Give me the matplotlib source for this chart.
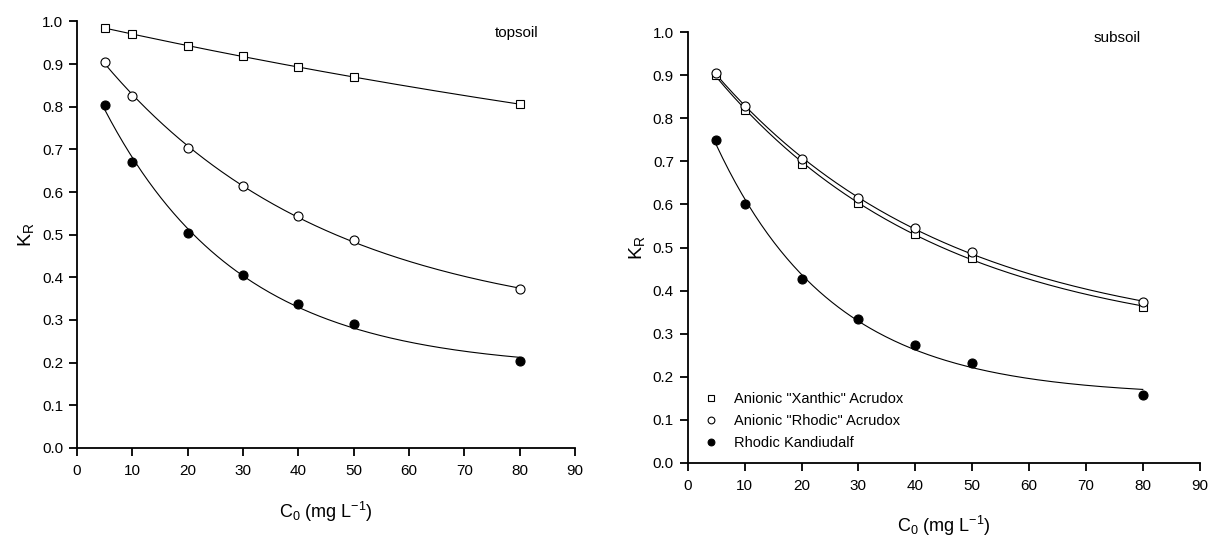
#!/usr/bin/env python3
"""
KR vs C0 for three soils, topsoil and subsoil panels.
Points read from the figure; lines are an exponential-decay fit to them.
"""
import numpy as np
import matplotlib
matplotlib.use("Agg")
import matplotlib.pyplot as plt

c0 = [5, 10, 20, 30, 40, 50, 80]

# topsoil
top_xanthic = [0.985, 0.970, 0.943, 0.918, 0.893, 0.870, 0.806]
top_rhodic = [0.905, 0.826, 0.704, 0.613, 0.543, 0.487, 0.372]
top_kandiudalf = [0.803, 0.671, 0.505, 0.405, 0.338, 0.290, 0.203]

# subsoil
sub_xanthic = [0.900, 0.820, 0.695, 0.603, 0.532, 0.475, 0.362]
sub_rhodic = [0.905, 0.828, 0.706, 0.615, 0.545, 0.489, 0.373]
sub_kandiudalf = [0.750, 0.600, 0.428, 0.333, 0.273, 0.231, 0.158]

labels = ['Anionic "Xanthic" Acrudox', 'Anionic "Rhodic" Acrudox', 'Rhodic Kandiudalf']

plt.rcParams["font.family"] = ["Liberation Sans", "DejaVu Sans"]
plt.rcParams["mathtext.default"] = "regular"


def fit_curve(x, y, n=200):
    # y = a + b*exp(-c*x), grid search on c, linear least squares for a, b
    x = np.asarray(x, float); y = np.asarray(y, float)
    best = None
    for c in np.linspace(0.0005, 0.2, 2000):
        A = np.column_stack([np.ones_like(x), np.exp(-c*x)])
        coef, *_ = np.linalg.lstsq(A, y, rcond=None)
        sse = np.sum((A @ coef - y)**2)
        if best is None or sse < best[0]:
            best = (sse, c, coef)
    _, c, (a, b) = best
    xf = np.linspace(x.min(), x.max(), n)
    return xf, a + b*np.exp(-c*xf)


def style_axes(ax, xlabel_pad):
    ax.set_xlim(0, 90); ax.set_ylim(0, 1.0)
    ax.set_xticks(np.arange(0, 91, 10))
    ax.set_yticks(np.arange(0, 1.01, 0.1))
    ax.set_yticklabels([f"{v:.1f}" for v in np.arange(0, 1.01, 0.1)])
    for s in ("top", "right"):
        ax.spines[s].set_visible(False)
    for s in ("left", "bottom"):
        ax.spines[s].set_linewidth(1.3)
    ax.tick_params(direction="out", length=6, width=1.3, labelsize=11, pad=4)
    ax.tick_params(axis="x", pad=5.5)
    ax.set_xlabel(r"C$_{0}$ (mg L$^{-1}$)", fontsize=13, labelpad=xlabel_pad)
    ax.set_ylabel(r"K$_{R}$", fontsize=14, labelpad=4)


def draw_panel(ax, series):
    styles = [dict(marker="s", mfc="white", mec="black", ms=5.5, mew=0.8),
              dict(marker="o", mfc="white", mec="black", ms=6.5, mew=0.8),
              dict(marker="o", mfc="black", mec="black", ms=6.5, mew=0.8)]
    for y, st, lab in zip(series, styles, labels):
        xf, yf = fit_curve(c0, y)
        ax.plot(xf, yf, color="black", lw=0.8, zorder=2)
        ax.plot(c0, y, ls="none", label=lab, zorder=3, clip_on=False, **st)


def main():
    fig = plt.figure(figsize=(12.13, 5.37), dpi=100)
    ax1 = fig.add_axes([0.0635, 0.166, 0.4105, 0.794])
    ax2 = fig.add_axes([0.567, 0.138, 0.422, 0.802])

    draw_panel(ax1, [top_xanthic, top_rhodic, top_kandiudalf])
    style_axes(ax1, 16)
    ax1.text(79.5, 0.973, "topsoil", fontsize=11, ha="center", va="center")

    draw_panel(ax2, [sub_xanthic, sub_rhodic, sub_kandiudalf])
    style_axes(ax2, 15)
    ax2.text(75.5, 0.986, "subsoil", fontsize=11, ha="center", va="center")
    ax2.legend(loc="lower left", bbox_to_anchor=(0.028, 0.03), frameon=False,
               fontsize=10.5, markerscale=0.75, handlelength=1.2,
               handletextpad=1.0, labelspacing=0.55, borderpad=0, borderaxespad=0)

    fig.savefig("out.png", dpi=100)


if __name__ == "__main__":
    main()
